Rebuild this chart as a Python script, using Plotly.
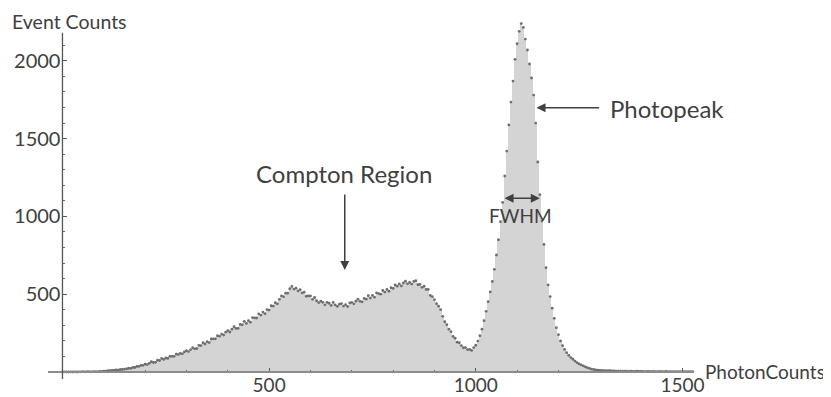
import plotly.graph_objects as go

# Channel (PhotonCounts) bin centres, 5-channel bins
channels = list(range(0, 1535, 5))

# Event counts, one per bin
event_counts = [
    0, 1, 0, 0, 1, 0, 1, 0, 1, 1, 2, 1, 2, 2, 1, 3, 2, 3, 4, 4,                      # 0-95
    6, 5, 8, 8, 10, 10, 13, 12, 16, 16, 19, 20, 24, 23, 29, 29, 36, 36, 43, 43,        # 100-195
    51, 48, 56, 66, 61, 62, 76, 74, 87, 81, 90, 87, 101, 101, 101, 115, 112, 120, 117, 129,  # 200-295
    137, 131, 144, 156, 149, 151, 171, 170, 188, 180, 195, 189, 212, 213, 213, 233, 230, 244, 238, 256,  # 300-395
    266, 257, 275, 291, 280, 281, 306, 303, 326, 312, 330, 320, 349, 348, 347, 373, 366, 385, 375, 401,  # 400-495
    398, 426, 424, 445, 438, 467, 489, 484, 507, 507, 535, 550, 533, 539, 521, 529, 508, 514, 487, 489,  # 500-595
    489, 467, 479, 458, 446, 456, 448, 432, 448, 442, 428, 447, 431, 422, 436, 440, 424, 433, 421, 444,  # 600-695
    448, 438, 455, 468, 454, 451, 473, 468, 490, 475, 492, 481, 508, 504, 500, 524, 514, 531, 519, 542,  # 700-795
    537, 560, 552, 566, 553, 572, 584, 567, 576, 565, 582, 587, 561, 563, 544, 552, 531, 531, 492, 484,  # 800-895
    465, 439, 423, 401, 358, 323, 304, 275, 259, 229, 217, 192, 188, 170, 156, 157, 144, 145, 139, 157,  # 900-995
    172, 199, 233, 275, 330, 390, 452, 515, 582, 660, 752, 850, 966, 1090, 1260, 1420, 1588, 1735, 1870, 2010,  # 1000-1095
    2110, 2190, 2240, 2215, 2140, 2070, 1980, 1890, 1780, 1600, 1350, 1140, 970, 820, 670, 560, 485, 410, 345, 285,  # 1100-1195
    240, 200, 170, 145, 124, 107, 93, 82, 70, 60, 52, 46, 40, 33, 28, 23, 19, 16, 13, 12,  # 1200-1295
    11, 10, 9, 9, 8, 8, 7, 7, 6, 6, 6, 5, 5, 5, 4, 5, 4, 4, 5, 4,                      # 1300-1395
    4, 4, 3, 4, 4, 3, 4, 3, 3, 4, 3, 3, 4, 3, 3, 3, 2, 3, 3, 3,                        # 1400-1495
    3, 2, 3, 2, 3, 2, 2,                                                               # 1500-1530
]

x_tick_values = [500, 1000, 1500]
y_tick_values = [500, 1000, 1500, 2000]
x_minor_ticks = [100, 200, 300, 400, 600, 700, 800, 900, 1100, 1200, 1300, 1400]
y_minor_ticks = [100, 200, 300, 400, 600, 700, 800, 900, 1100, 1200, 1300, 1400,
                 1600, 1700, 1800, 1900, 2100]

X_MIN, X_MAX = -35, 1528
Y_MIN, Y_MAX = -45, 2327
Y_AXIS_TOP = 2180

# the page body adds an 8px offset, so the figure is sized to end at the window edge
FIG_W, FIG_H = 823, 389
M_L, M_T, PLOT_W, PLOT_H = 40, 2, 646, 369

FONT = "Lato"
TXT = "#404040"

fig = go.Figure()
fig.add_trace(go.Bar(
    x=channels, y=event_counts, width=5,
    marker=dict(color="#d4d4d4", line=dict(width=0)),
    hoverinfo="skip", showlegend=False,
))
fig.add_trace(go.Scatter(
    x=channels, y=event_counts, mode="markers",
    marker=dict(size=2.8, color="#6e6e6e"),
    showlegend=False, cliponaxis=False,
))

# axis lines
fig.add_shape(type="line", x0=X_MIN, x1=X_MAX, y0=0, y1=0, xref="x", yref="y",
              line=dict(color="#8c8c8c", width=2.2), layer="above")
fig.add_shape(type="line", x0=0, x1=0, y0=Y_MIN, y1=Y_AXIS_TOP, xref="x", yref="y",
              line=dict(color="#555555", width=1.3), layer="above")

fig.update_layout(
    width=FIG_W, height=FIG_H,
    margin=dict(l=M_L, r=FIG_W - M_L - PLOT_W, t=M_T, b=FIG_H - M_T - PLOT_H,
                autoexpand=False),
    paper_bgcolor="white", plot_bgcolor="white",
    bargap=0,
    font=dict(family=FONT, color=TXT),
    xaxis=dict(
        range=[X_MIN, X_MAX], domain=[0, 1], anchor="free",
        position=(0 - Y_MIN) / (Y_MAX - Y_MIN), automargin=False,
        showline=False, showgrid=False, zeroline=False,
        tickmode="array", tickvals=x_tick_values,
        ticks="inside", ticklen=4, tickwidth=1.2, tickcolor="#555555",
        ticklabelstandoff=0,
        minor=dict(tickmode="array", tickvals=x_minor_ticks, ticks="inside",
                   ticklen=2, tickwidth=1, tickcolor="#666666"),
        tickfont=dict(family=FONT, size=19, color=TXT),
    ),
    yaxis=dict(
        range=[Y_MIN, Y_MAX], domain=[0, 1], anchor="free",
        position=(0 - X_MIN) / (X_MAX - X_MIN), automargin=False,
        showline=False, showgrid=False, zeroline=False,
        tickmode="array", tickvals=y_tick_values,
        ticks="inside", ticklen=4, tickwidth=1.2, tickcolor="#555555",
        ticklabelstandoff=2,
        minor=dict(tickmode="array", tickvals=y_minor_ticks, ticks="inside",
                   ticklen=2, tickwidth=1, tickcolor="#666666"),
        tickfont=dict(family=FONT, size=20, color=TXT),
    ),
)

ann_font = dict(family=FONT, color=TXT)
# axis titles
fig.add_annotation(text="Event Counts", x=(61 - M_L) / PLOT_W,
                   y=(M_T + PLOT_H - 14) / PLOT_H,
                   xref="paper", yref="paper", xanchor="center", yanchor="middle",
                   showarrow=False, font=dict(size=19.5, **ann_font))
fig.add_annotation(text="PhotonCounts",
                   x=(1549 - X_MIN) / (X_MAX - X_MIN),
                   y=(0 - Y_MIN) / (Y_MAX - Y_MIN),
                   xref="paper", yref="paper",
                   xanchor="left", yanchor="middle", showarrow=False,
                   font=dict(size=19, **ann_font))
# labels
fig.add_annotation(text="Compton Region", x=682, y=1279, xref="x", yref="y",
                   showarrow=False, font=dict(size=24, **ann_font))
fig.add_annotation(text="", x=683, y=656, ax=683, ay=1151, xref="x", yref="y",
                   axref="x", ayref="y", showarrow=True, arrowhead=2,
                   arrowsize=1.2, arrowwidth=1.5, arrowcolor=TXT)
fig.add_annotation(text="Photopeak", x=1321, y=1697, xref="x", yref="y",
                   xanchor="left", showarrow=False, font=dict(size=24, **ann_font))
fig.add_annotation(text="", x=1147, y=1699, ax=1302, ay=1699, xref="x", yref="y",
                   axref="x", ayref="y", showarrow=True, arrowhead=2,
                   arrowsize=1.2, arrowwidth=1.5, arrowcolor=TXT)
fig.add_annotation(text="", x=1155, y=1117, ax=1066, ay=1117, xref="x", yref="y",
                   axref="x", ayref="y", showarrow=True, arrowhead=2,
                   arrowside="end+start", arrowsize=1.2, arrowwidth=1.5,
                   arrowcolor=TXT)
fig.add_annotation(text="FWHM", x=1107, y=1005, xref="x", yref="y",
                   showarrow=False, font=dict(size=19, **ann_font))

fig.write_html("out.html")
